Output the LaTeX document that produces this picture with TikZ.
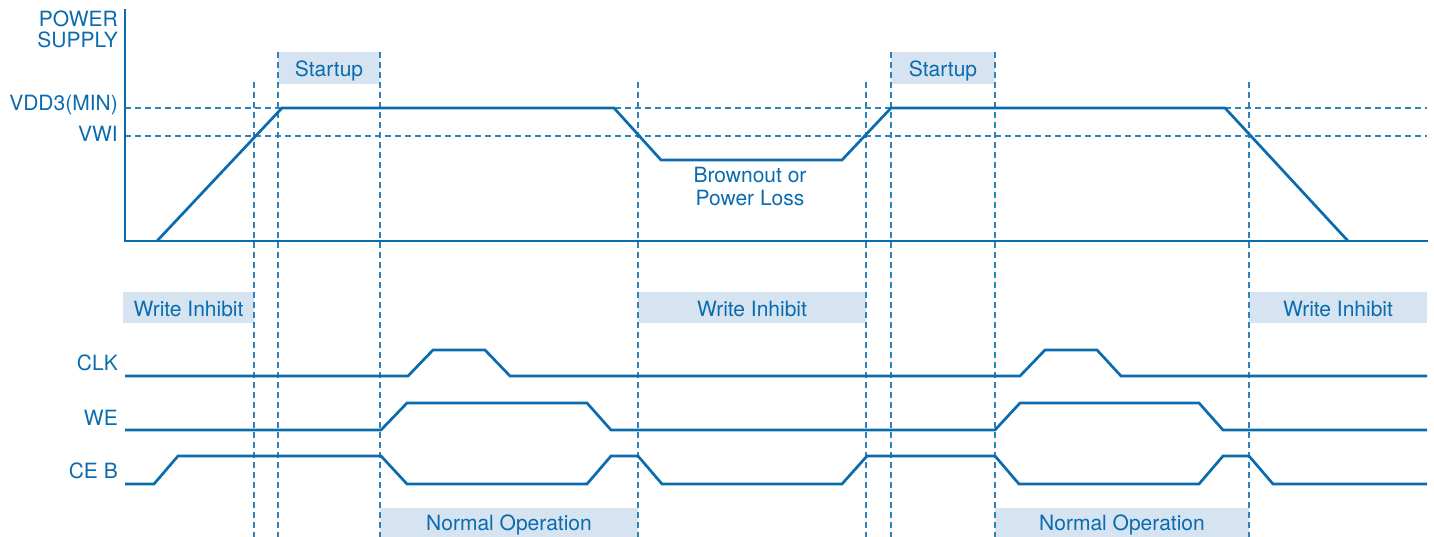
\documentclass[tikz,border=0pt]{standalone}
\usepackage{fontspec}
\setmainfont{TeX Gyre Heros}
\definecolor{sigblue}{HTML}{0A6CAE}
\definecolor{boxfill}{HTML}{D6E3F1}
\begin{document}
\begin{tikzpicture}[x=1pt,y=-1pt,
  wave/.style={draw=sigblue,line width=2.7pt,line join=miter},
  guide/.style={draw=sigblue!85,line width=1.3pt,dash pattern=on 6pt off 4pt},
  shade/.style={fill=boxfill},
  lbl/.style={text=sigblue,font=\fontsize{21}{21}\selectfont,inner sep=0pt},
]
\useasboundingbox (0,0) rectangle (1434,537);
% shaded boxes
\path[shade] (278,52) rectangle (380,84);
\path[shade] (891,52) rectangle (995,84);
\path[shade] (123,292) rectangle (254,323);
\path[shade] (638,292) rectangle (866,323);
\path[shade] (1249,292) rectangle (1427,323);
\path[shade] (380,508) rectangle (638,537);
\path[shade] (995,508) rectangle (1249,537);
% horizontal guides
\draw[guide] (125,108) -- (1427,108);
\draw[guide] (125,136) -- (1427,136);
% vertical guides
\foreach \gx in {254,638,866,1249} \draw[guide] (\gx,82) -- (\gx,537);
\foreach \gx in {278,380,891,995} \draw[guide] (\gx,52) -- (\gx,537);
% axes
\draw[wave,line cap=rect] (125,10) -- (125,241) -- (1427,241);
% power supply
\draw[wave] (157,241) -- (282,108) -- (614,108) -- (661,160) -- (842,160) -- (891,108) -- (1225,108) -- (1348,241);
% CLK
\draw[wave] (125,376) -- (408,376) -- (433,350) -- (485,350) -- (510,376) -- (1020,376) -- (1045,350) -- (1097,350) -- (1121,376) -- (1427,376);
% WE
\draw[wave] (125,430) -- (381,430) -- (407,403) -- (587,403) -- (611,430) -- (995,430) -- (1020,403) -- (1199,403) -- (1223,430) -- (1427,430);
% CE B
\draw[wave] (125,484) -- (154,484) -- (178,456) -- (381,456) -- (407,484) -- (587,484) -- (611,456) -- (638,456) -- (662,484) -- (842,484) -- (867,456) -- (995,456) -- (1019,484) -- (1199,484) -- (1223,456) -- (1249,456) -- (1273,484) -- (1427,484);
% labels
\node[lbl,anchor=base east] (power) at (118,27) {POWER};
\node[lbl,anchor=base east] (supply) at (118,47.5) {SUPPLY};
\node[lbl,anchor=base east] (vdd) at (118,111) {VDD3(MIN)};
\node[lbl,anchor=base east] (vwi) at (118,141.5) {VWI};
\node[lbl,anchor=base east] (clk) at (118,370) {CLK};
\node[lbl,anchor=base east] (we) at (118,425) {WE};
\node[lbl,anchor=base east] (ceb) at (118,478) {CE B};
\node[lbl,anchor=base] (st1) at (329,77) {Startup};
\node[lbl,anchor=base] (st2) at (943,77) {Startup};
\node[lbl,anchor=base] (wi1) at (188.5,316) {Write Inhibit};
\node[lbl,anchor=base] (wi2) at (752,316) {Write Inhibit};
\node[lbl,anchor=base] (wi3) at (1338,316) {Write Inhibit};
\node[lbl,anchor=base] (no1) at (509,530) {Normal Operation};
\node[lbl,anchor=base] (no2) at (1122,530) {Normal Operation};
\node[lbl,anchor=base] (bo1) at (750,183) {Brownout or};
\node[lbl,anchor=base] (bo2) at (750,206) {Power Loss};
\end{tikzpicture}
\end{document}
